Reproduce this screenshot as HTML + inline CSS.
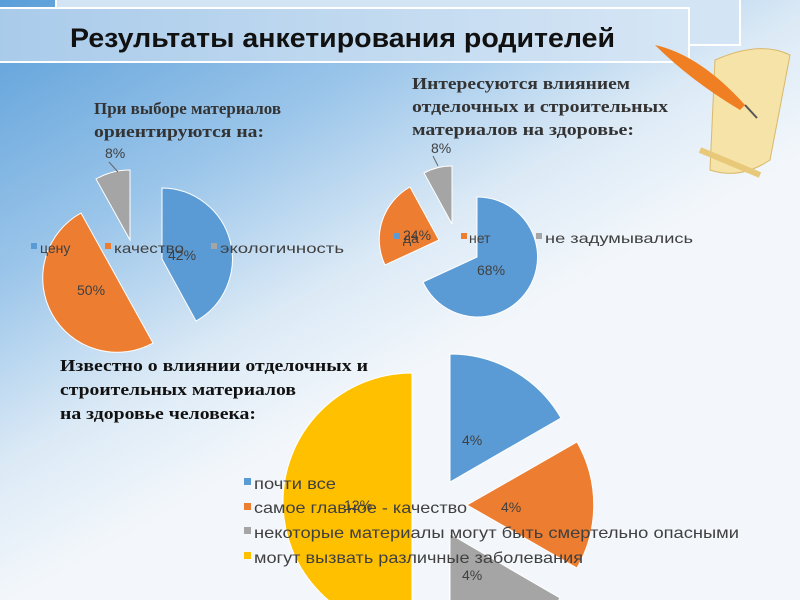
<!DOCTYPE html>
<html><head><meta charset="utf-8"><style>
html,body{margin:0;padding:0;width:800px;height:600px;overflow:hidden;background:#f3f7fb}
svg{display:block}
</style></head><body>
<svg width="800" height="600" viewBox="0 0 800 600" xmlns="http://www.w3.org/2000/svg">
<defs>
<linearGradient id="bg" x1="0" y1="0" x2="0.75" y2="1">
<stop offset="0" stop-color="#5a9ed9"/><stop offset="0.3" stop-color="#9cc6ea"/><stop offset="0.5" stop-color="#dceaf6"/><stop offset="0.65" stop-color="#f3f7fb"/><stop offset="1" stop-color="#f3f7fb"/>
</linearGradient>
<linearGradient id="bn" x1="0" y1="0" x2="1" y2="0">
<stop offset="0" stop-color="#a9cbea"/><stop offset="1" stop-color="#d6e6f5"/>
</linearGradient>
</defs>
<rect width="800" height="600" fill="url(#bg)"/>
<!-- banner -->
<rect x="56" y="-2" width="684" height="47" fill="#d3e4f4" stroke="#fff" stroke-width="2"/>
<rect x="-2" y="8" width="691" height="54" fill="url(#bn)" stroke="#fff" stroke-width="2"/>
<text x="70" y="47" font-family="Liberation Sans, sans-serif" font-weight="bold" font-size="27" fill="#111" textLength="545" lengthAdjust="spacingAndGlyphs">Результаты анкетирования родителей</text>
<!-- scroll & quill -->
<path d="M715 60 Q760 40 790 55 L770 160 Q740 180 710 170 Z" fill="#f6e3a8" stroke="#d9b86a"/>
<path d="M700 150 L760 175" stroke="#e8c97a" stroke-width="6"/>
<path d="M655 45 Q700 55 745 105 L740 110 Q690 80 655 45 Z" fill="#ef7f22"/>
<path d="M745 105 L757 118" stroke="#555" stroke-width="2"/>
<g font-family="Liberation Serif, serif" font-weight="bold" font-size="17" fill="#333">
<text x="94" y="114" textLength="187" lengthAdjust="spacingAndGlyphs">При выборе материалов</text>
<text x="94" y="137" textLength="170" lengthAdjust="spacingAndGlyphs">ориентируются на:</text>
<text x="412" y="89" textLength="218" lengthAdjust="spacingAndGlyphs">Интересуются влиянием</text>
<text x="412" y="112" textLength="256" lengthAdjust="spacingAndGlyphs">отделочных и строительных</text>
<text x="412" y="135" textLength="222" lengthAdjust="spacingAndGlyphs">материалов на здоровье:</text>
<text x="60" y="371" fill="#111" textLength="308" lengthAdjust="spacingAndGlyphs">Известно о влиянии отделочных и</text>
<text x="60" y="395" fill="#111" textLength="236" lengthAdjust="spacingAndGlyphs">строительных материалов</text>
<text x="60" y="419" fill="#111" textLength="196" lengthAdjust="spacingAndGlyphs">на здоровье человека:</text>
</g>
<!-- pie1 -->
<path d="M162 259 L162 188 A71 71 0 0 1 196 321 Z" fill="#5b9bd5" stroke="#fff"/>
<path d="M117 278 L153 343 A74 74 0 0 1 81 213 Z" fill="#ed7d31" stroke="#fff"/>
<path d="M130 240 L96 179 A70 70 0 0 1 130 170 Z" fill="#a5a5a5" stroke="#fff"/>
<path d="M109 162 L118 172" stroke="#666"/>
<!-- pie2 -->
<path d="M477 257 L477 197 A60 60 0 1 1 423 282 Z" fill="#5b9bd5" stroke="#fff"/>
<path d="M439 240 L385 265 A60 60 0 0 1 410 187 Z" fill="#ed7d31" stroke="#fff"/>
<path d="M452 224 L424 173 A58 58 0 0 1 452 166 Z" fill="#a5a5a5" stroke="#fff"/>
<path d="M433 156 L438 166" stroke="#666"/>
<!-- pie3 -->
<path d="M450 482 L450 354 A128 128 0 0 1 561 418 Z" fill="#5b9bd5" stroke="#fff"/>
<path d="M467 505 L577 442 A127 127 0 0 1 577 568 Z" fill="#ed7d31" stroke="#fff"/>
<path d="M450 534 L560 598 A127 127 0 0 1 450 661 Z" fill="#a5a5a5" stroke="#fff"/>
<path d="M412 502 L412 631 A129 129 0 0 1 412 373 Z" fill="#ffc000" stroke="#fff"/>
<g font-family="Liberation Sans, sans-serif" fill="#404040">
<g font-size="14">
<text x="105" y="158">8%</text>
<text x="168" y="260">42%</text>
<text x="77" y="295">50%</text>
<text x="431" y="153">8%</text>
<text x="403" y="240">24%</text>
<text x="477" y="275">68%</text>
<text x="462" y="445">4%</text>
<text x="501" y="512">4%</text>
<text x="462" y="580">4%</text>
<text x="344" y="510">12%</text>
</g>
<g font-size="14">
<rect x="31" y="243" width="6" height="6" fill="#5b9bd5"/><text x="40" y="253">цену</text>
<rect x="105" y="243" width="6" height="6" fill="#ed7d31"/><text x="114" y="253" textLength="70" lengthAdjust="spacingAndGlyphs">качество</text>
<rect x="211" y="243" width="6" height="6" fill="#a5a5a5"/><text x="220" y="253" textLength="124" lengthAdjust="spacingAndGlyphs">экологичность</text>
<rect x="394" y="233" width="6" height="6" fill="#5b9bd5"/><text x="403" y="243">да</text>
<rect x="461" y="233" width="6" height="6" fill="#ed7d31"/><text x="469" y="243">нет</text>
<rect x="536" y="233" width="6" height="6" fill="#a5a5a5"/><text x="545" y="243" textLength="148" lengthAdjust="spacingAndGlyphs">не задумывались</text>
</g>
<g font-size="16">
<rect x="244" y="478" width="7" height="7" fill="#5b9bd5"/><text x="254" y="489" textLength="82" lengthAdjust="spacingAndGlyphs">почти все</text>
<rect x="244" y="503" width="7" height="7" fill="#ed7d31"/><text x="254" y="513" textLength="213" lengthAdjust="spacingAndGlyphs">самое главное - качество</text>
<rect x="244" y="527" width="7" height="7" fill="#a5a5a5"/><text x="254" y="538" textLength="485" lengthAdjust="spacingAndGlyphs">некоторые материалы могут быть смертельно опасными</text>
<rect x="244" y="552" width="7" height="7" fill="#ffc000"/><text x="254" y="563" textLength="329" lengthAdjust="spacingAndGlyphs">могут вызвать различные заболевания</text>
</g>
</g>
</svg>
</body></html>
